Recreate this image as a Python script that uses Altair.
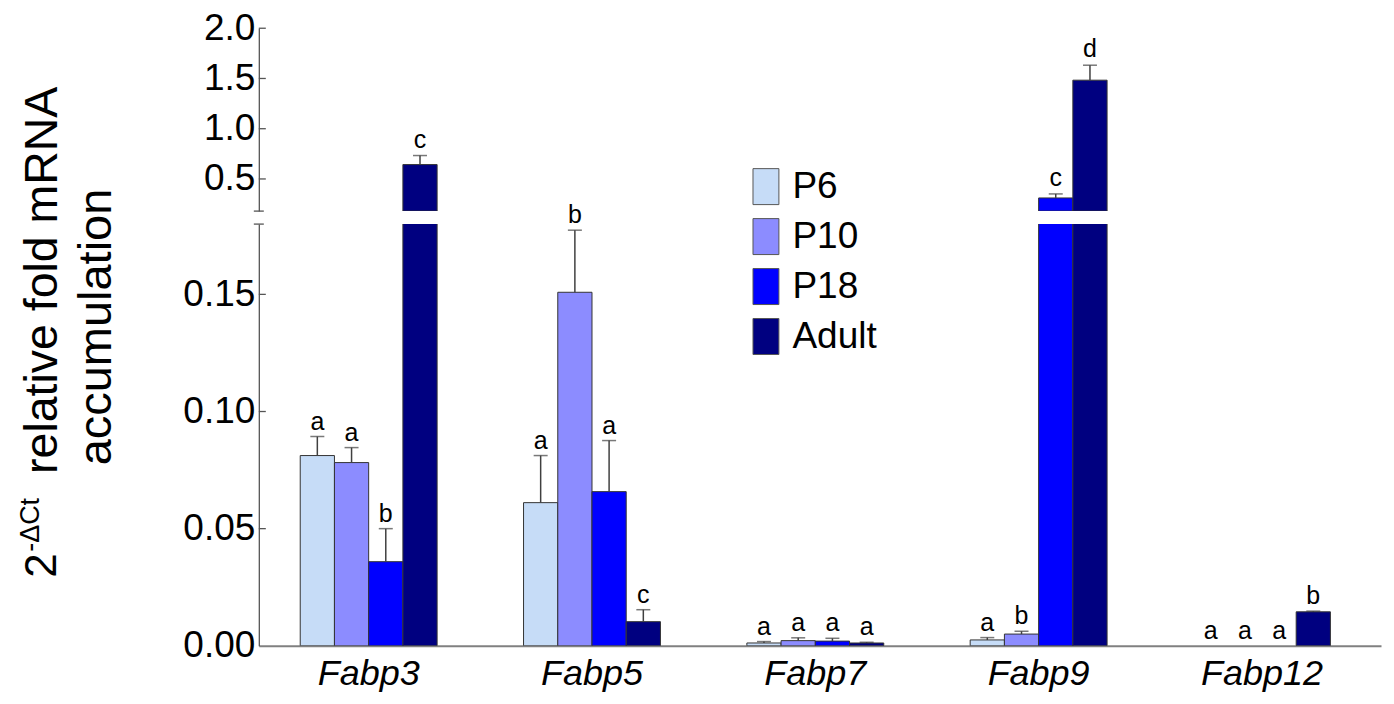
import altair as alt
import pandas as pd

genes = ["Fabp3", "Fabp5", "Fabp7", "Fabp9", "Fabp12"]
stages = ["P6", "P10", "P18", "Adult"]
colors = ["#C6DCF7", "#8C8CFF", "#0000FF", "#000080"]

mean_p6 = [0.0812, 0.0611, 0.0012, 0.0025, 0.0]
mean_p10 = [0.0782, 0.1509, 0.0022, 0.0050, 0.0]
mean_p18 = [0.0359, 0.0658, 0.0020, 0.311, 0.0]
mean_adult = [0.643, 0.0103, 0.0012, 1.483, 0.0145]

err_p6 = [0.0081, 0.0201, 0.0006, 0.0010, 0.0]
err_p10 = [0.0064, 0.0265, 0.0012, 0.0012, 0.0]
err_p18 = [0.0141, 0.0218, 0.0012, 0.040, 0.0]
err_adult = [0.090, 0.0051, 0.0003, 0.149, 0.0003]

let_p6 = ["a", "a", "a", "a", "a"]
let_p10 = ["a", "b", "a", "b", "a"]
let_p18 = ["b", "a", "a", "c", "a"]
let_adult = ["c", "c", "a", "d", "b"]

upper_ticks = [0.5, 1.0, 1.5, 2.0]
lower_ticks = [0.0, 0.05, 0.10, 0.15]
BREAK = 0.18
TOP = 2.0

rows = []
for s, ms, es, ls in zip(stages, [mean_p6, mean_p10, mean_p18, mean_adult],
                         [err_p6, err_p10, err_p18, err_adult],
                         [let_p6, let_p10, let_p18, let_adult]):
    for g, m, e, l in zip(genes, ms, es, ls):
        rows.append(dict(gene=g, stage=s, mean=m, err=e, top=m + e, letter=l))
df = pd.DataFrame(rows)

FONT = "Liberation Sans"
W = 1123
H_UP = 183
H_LO = 422
AXC = "#555555"
ERRC = "#404040"

xscale = alt.Scale(domain=genes, paddingInner=0.387, paddingOuter=0.206, align=0.45)
xoff = alt.XOffset("stage:N", sort=stages,
                   scale=alt.Scale(domain=stages, paddingInner=0, paddingOuter=0))
color = alt.Color(
    "stage:N", sort=stages,
    scale=alt.Scale(domain=stages, range=colors),
    legend=alt.Legend(
        title=None, orient="none", legendX=489, legendY=140,
        symbolType="M-0.72,-1H0.72V1H-0.72Z", symbolSize=1296,
        symbolStrokeColor="#555555", symbolStrokeWidth=1, symbolOpacity=1,
        labelFont=FONT, labelFontSize=37, labelColor="black",
        labelOffset=8, rowPadding=9,
    ),
)

x_up = alt.X("gene:N", sort=genes, scale=xscale, axis=None)
x_lo = alt.X(
    "gene:N", sort=genes, scale=xscale,
    axis=alt.Axis(title=None, labelFont=FONT, labelFontSize=36, labelFontStyle="italic",
                  labelColor="black", labelAngle=0, ticks=False, domainColor="#808080",
                  domainWidth=2, labelPadding=11),
)

yscale_up = alt.Scale(domain=[BREAK, TOP], zero=False, nice=False)
yscale_lo = alt.Scale(domain=[0, BREAK], nice=False)

yaxis_up = alt.Axis(title=None, values=upper_ticks, format=".1f", ticks=False, grid=False,
                    labelFont=FONT, labelFontSize=37, labelColor="black", labelPadding=4,
                    labelFlush=False, labelOverlap=False, domainColor=AXC, domainWidth=1.3)
yaxis_lo = alt.Axis(title=None, values=lower_ticks, format=".2f", ticks=False, grid=False,
                    labelFont=FONT, labelFontSize=37, labelColor="black", labelPadding=4,
                    labelFlush=False, labelOverlap=False, domainColor=AXC, domainWidth=1.3)

base = alt.Chart(df)

# ---------- upper panel ----------
up_df = base.transform_filter(f"datum.mean > {BREAK}")
bars_up = up_df.mark_bar(stroke="#333333", strokeWidth=1, clip=True).encode(
    x=x_up, xOffset=xoff,
    y=alt.Y("mean:Q", scale=yscale_up, axis=yaxis_up),
    y2=alt.datum(BREAK),
    color=color,
)
err_up = up_df.mark_rule(color=ERRC, strokeWidth=1.5).encode(
    x=x_up, xOffset=xoff, y=alt.Y("mean:Q", scale=yscale_up), y2="top:Q")
cap_up = up_df.mark_tick(color=ERRC, thickness=1.5, size=14).encode(
    x=x_up, xOffset=xoff, y=alt.Y("top:Q", scale=yscale_up))
txt_up = up_df.mark_text(font=FONT, fontSize=25, baseline="alphabetic", dy=-8, color="black").encode(
    x=x_up, xOffset=xoff, y=alt.Y("top:Q", scale=yscale_up), text="letter:N")
ticks_up = alt.Chart(pd.DataFrame({"v": upper_ticks})).mark_rule(color=AXC, strokeWidth=1.3).encode(
    y=alt.Y("v:Q", scale=yscale_up), x=alt.value(0), x2=alt.value(7))
capb_up = alt.Chart(pd.DataFrame({"v": [BREAK]})).mark_rule(color=AXC, strokeWidth=1.3).encode(
    y=alt.Y("v:Q", scale=yscale_up), x=alt.value(-5), x2=alt.value(5))

upper = alt.layer(bars_up, err_up, cap_up, txt_up, ticks_up, capb_up).properties(width=W, height=H_UP)

# ---------- lower panel ----------
lo_ann = base.transform_filter(f"datum.top <= {BREAK}")
bars_lo = base.transform_filter("datum.mean > 0").mark_bar(
    stroke="#333333", strokeWidth=1, clip=True).encode(
    x=x_lo, xOffset=xoff,
    y=alt.Y("mean:Q", scale=yscale_lo, axis=yaxis_lo),
    color=color,
)
err_lo = lo_ann.transform_filter("datum.err > 0").mark_rule(color=ERRC, strokeWidth=1.5).encode(
    x=x_lo, xOffset=xoff, y=alt.Y("mean:Q", scale=yscale_lo), y2="top:Q")
cap_lo = lo_ann.transform_filter("datum.err > 0").mark_tick(color=ERRC, thickness=1.5, size=14).encode(
    x=x_lo, xOffset=xoff, y=alt.Y("top:Q", scale=yscale_lo))
txt_lo = lo_ann.mark_text(font=FONT, fontSize=25, baseline="alphabetic", dy=-7, color="black").encode(
    x=x_lo, xOffset=xoff, y=alt.Y("top:Q", scale=yscale_lo), text="letter:N")
ticks_lo = alt.Chart(pd.DataFrame({"v": lower_ticks[1:]})).mark_rule(color=AXC, strokeWidth=1.3).encode(
    y=alt.Y("v:Q", scale=yscale_lo), x=alt.value(0), x2=alt.value(7))
capb_lo = alt.Chart(pd.DataFrame({"v": [BREAK]})).mark_rule(color=AXC, strokeWidth=1.3).encode(
    y=alt.Y("v:Q", scale=yscale_lo), x=alt.value(-5), x2=alt.value(5))

# y-axis title with superscript, as text marks
tdf = pd.DataFrame({"k": [0]})
t_two = alt.Chart(tdf).mark_text(font=FONT, fontSize=44, angle=270, align="left",
                                 baseline="alphabetic", color="black", text="2").encode(
    x=alt.value(-203), y=alt.value(354))
t_sup = alt.Chart(tdf).mark_text(font=FONT, fontSize=27, angle=270, align="left",
                                 baseline="alphabetic", color="black", text="-ΔCt").encode(
    x=alt.value(-220), y=alt.value(328))
t_l1 = alt.Chart(tdf).mark_text(font=FONT, fontSize=46.5, angle=270, align="left",
                                baseline="alphabetic", color="black", text="relative fold mRNA").encode(
    x=alt.value(-202), y=alt.value(250))
t_l2 = alt.Chart(tdf).mark_text(font=FONT, fontSize=47, angle=270, align="center",
                                baseline="alphabetic", color="black", text="accumulation").encode(
    x=alt.value(-148), y=alt.value(103))

lower = alt.layer(bars_lo, err_lo, cap_lo, txt_lo, ticks_lo, capb_lo,
                  t_two, t_sup, t_l1, t_l2).properties(width=W, height=H_LO)

chart = alt.vconcat(upper, lower, spacing=13, bounds="flush").properties(
    padding={"left": 9, "top": 1, "right": 5, "bottom": 5}
).configure_view(stroke=None)

chart.save("out.html", embed_options={"renderer": "svg", "actions": False})
